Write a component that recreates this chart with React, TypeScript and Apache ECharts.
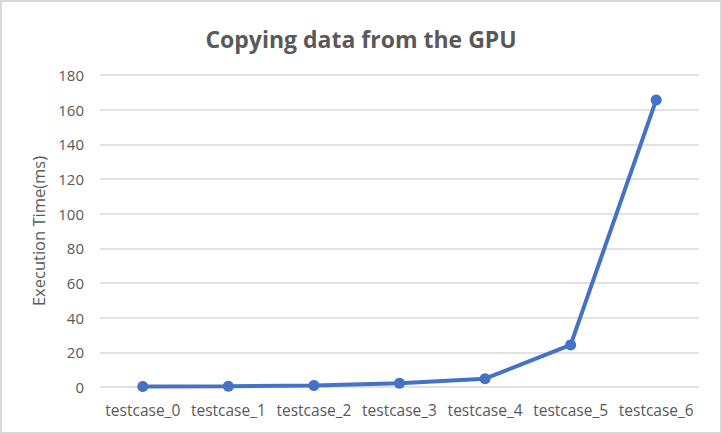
import React, { useEffect, useRef } from "react";
import * as echarts from "echarts";

const categories = ["testcase_0", "testcase_1", "testcase_2", "testcase_3", "testcase_4", "testcase_5", "testcase_6"];
const executionTimes = [0.3, 0.4, 0.9, 2.1, 4.8, 24.3, 165.6];
const yTicks = { min: 0, max: 180, interval: 20 };
const chartTitle = "Copying data from the GPU";
const yAxisName = "Execution Time(ms)";

export default function App() {
  const ref = useRef<HTMLDivElement>(null);
  useEffect(() => {
    if (!ref.current) return;
    const chart = echarts.init(ref.current, null, { renderer: "svg" });
    const font = "'Open Sans', 'Liberation Sans', sans-serif";
    chart.setOption({
      animation: false,
      backgroundColor: "#ffffff",
      title: {
        text: chartTitle,
        left: "center",
        top: 20,
        textStyle: { fontFamily: font, fontSize: 23, fontWeight: "bold", color: "#595959" },
      },
      grid: { left: 98, right: 21, top: 73, bottom: 45 },
      xAxis: {
        type: "category",
        data: categories,
        boundaryGap: true,
        axisLine: { show: false },
        axisTick: { show: false },
        axisLabel: { color: "#595959", fontFamily: font, fontSize: 15.5, margin: 15, interval: 0 },
      },
      yAxis: {
        type: "value",
        min: yTicks.min,
        max: yTicks.max,
        interval: yTicks.interval,
        name: yAxisName,
        nameLocation: "middle",
        nameGap: 46,
        nameTextStyle: { color: "#595959", fontFamily: font, fontSize: 16.5 },
        axisLine: { show: false },
        axisTick: { show: false },
        axisLabel: { color: "#595959", fontFamily: font, fontSize: 15, margin: 16 },
        splitLine: { lineStyle: { color: "#d9d9d9", width: 1.5 } },
      },
      series: [
        {
          type: "line",
          data: executionTimes,
          symbol: "circle",
          symbolSize: 11,
          lineStyle: { color: "#4472C4", width: 4 },
          itemStyle: { color: "#4472C4" },
        },
      ],
    });
    return () => chart.dispose();
  }, []);
  return (
    <div
      ref={ref}
      style={{
        position: "fixed",
        left: 0,
        top: 0,
        width: 722,
        height: 434,
        boxSizing: "border-box",
        border: "2px solid #d9d9d9",
        background: "#fff",
      }}
    />
  );
}
